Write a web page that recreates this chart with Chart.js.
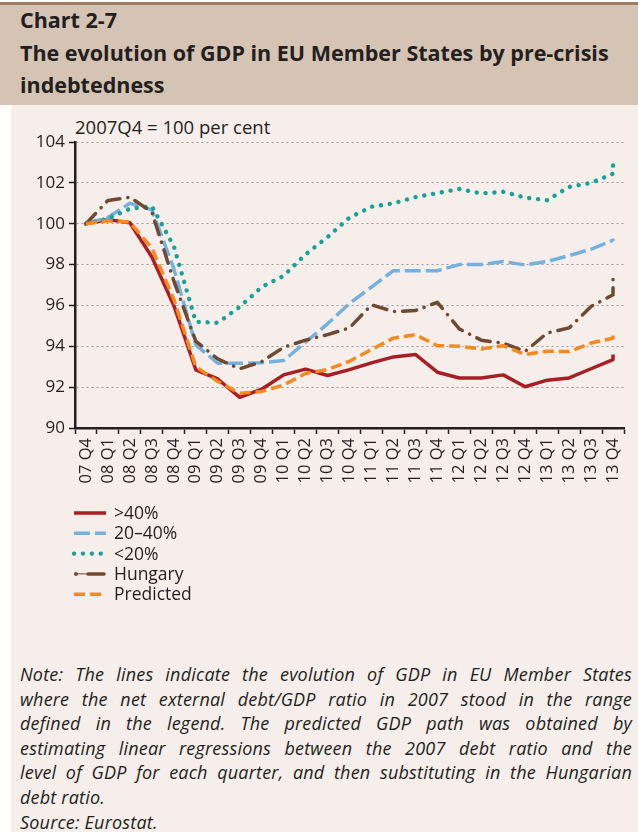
<!DOCTYPE html>
<html>
<head>
<meta charset="utf-8">
<title>GDP by pre-crisis indebtedness</title>
<script src="https://cdn.jsdelivr.net/npm/chart.js@4.4.1/dist/chart.umd.min.js"></script>
<style>
  html, body { margin: 0; padding: 0; }
  body {
    width: 638px; height: 832px; position: relative; overflow: hidden;
    background: #ffffff; color: #231f20;
    font-family: "Open Sans", Lato, sans-serif;
  }
  .topline { position: absolute; left: 0; top: 2px; width: 638px; height: 3px; background: #9c7c62; }
  .head { position: absolute; left: 0; top: 5px; width: 638px; height: 100px; background: #d5c3b3; }
  .head h1 {
    position: absolute; left: 20px; top: -1px; margin: 0;
    font-size: 21.5px; line-height: 32.5px; font-weight: 700;
  }
  .panel { position: absolute; left: 11px; top: 105px; width: 627px; height: 727px; background: #f5eeeb; }
  #wrap { position: absolute; left: 0; top: 105px; width: 638px; height: 525px; }
  .unit { position: absolute; left: 75px; top: 116px; font-size: 18.5px; line-height: 22px; }
  .note {
    position: absolute; left: 20px; top: 662px; width: 612px;
    font-size: 18px; font-style: italic; line-height: 24.6px; letter-spacing: 0.2px;
  }
  .note div { text-align: justify; text-align-last: justify; white-space: nowrap; }
  .note div.end { text-align-last: left; }
</style>
</head>
<body>
<div class="topline"></div>
<div class="head">
  <h1>Chart 2-7<br>The evolution of GDP in EU Member States by pre-crisis<br>indebtedness</h1>
</div>
<div class="panel"></div>
<div class="unit">2007Q4 = 100 per cent</div>
<div id="wrap"><canvas id="gdp" width="638" height="525"></canvas></div>
<div class="note">
  <div>Note: The lines indicate the evolution of GDP in EU Member States</div>
  <div>where the net external debt/GDP ratio in 2007 stood in the range</div>
  <div>defined in the legend. The predicted GDP path was obtained by</div>
  <div>estimating linear regressions between the 2007 debt ratio and the</div>
  <div>level of GDP for each quarter, and then substituting in the Hungarian</div>
  <div class="end">debt ratio.</div>
  <div class="end">Source: Eurostat.</div>
</div>

<script>
// quarter labels sit between the tick marks
var quarters = ['07 Q4', '08 Q1', '08 Q2', '08 Q3', '08 Q4', '09 Q1', '09 Q2', '09 Q3', '09 Q4',
                '10 Q1', '10 Q2', '10 Q3', '10 Q4', '11 Q1', '11 Q2', '11 Q3', '11 Q4',
                '12 Q1', '12 Q2', '12 Q3', '12 Q4', '13 Q1', '13 Q2', '13 Q3', '13 Q4'];

// GDP index, one value per tick mark
var over40    = [100, 100.2, 100.05, 98.37, 96.0, 92.85, 92.4, 91.5, 91.9, 92.6, 92.88, 92.57, 92.86,
                 93.19, 93.48, 93.6, 92.73, 92.45, 92.45, 92.6, 92.02, 92.34, 92.45, 92.9, 93.35, 93.6];
var from20to40 = [100, 100.3, 101.0, 100.68, 97.8, 94.07, 93.17, 93.17, 93.2, 93.3, 94.2, 95.1, 96.1,
                 96.9, 97.7, 97.7, 97.7, 98.0, 98.0, 98.15, 97.98, 98.15, 98.44, 98.75, 99.2, 99.17];
var under20   = [100, 100.25, 100.73, 100.85, 98.9, 95.2, 95.15, 95.93, 96.9, 97.45, 98.5, 99.35, 100.3,
                 100.83, 101.0, 101.3, 101.5, 101.7, 101.48, 101.56, 101.28, 101.15, 101.8, 102.0, 102.45, 103.07];
var hungary   = [100, 101.14, 101.3, 100.57, 97.2, 94.25, 93.38, 92.9, 93.25, 93.95, 94.3, 94.57, 94.9,
                 96.03, 95.7, 95.75, 96.15, 94.85, 94.3, 94.15, 93.75, 94.65, 94.9, 95.95, 96.52, 97.5];
var predicted = [100, 100.15, 100.08, 98.8, 96.3, 93.0, 92.28, 91.7, 91.79, 92.1, 92.67, 92.86, 93.27,
                 93.84, 94.4, 94.57, 94.03, 94.0, 93.87, 94.03, 93.6, 93.76, 93.74, 94.16, 94.4, 94.57];

var yMin = 90, yMax = 104, yStep = 2;

var ink = '#231f20';
var fontFamily = '"Open Sans", Lato, sans-serif';
Chart.defaults.font.family = fontFamily;
Chart.defaults.color = ink;

function points(values) {
    return values.map(function (v, i) { return { x: i, y: v }; });
}

// legend drawn as a column under the axis labels
var legendColumn = {
    id: 'legendColumn',
    afterDraw: function (chart) {
        var ctx = chart.ctx;
        var left = 73, top = chart.chartArea.bottom + 85;
        chart.data.datasets.forEach(function (ds, i) {
            var y = top + i * 20.3;
            ctx.save();
            ctx.strokeStyle = ds.borderColor;
            ctx.fillStyle = ds.borderColor;
            if (ds.label === 'Hungary') {
                // dot, hairline, long dash
                ctx.beginPath();
                ctx.arc(left + 3, y, 2, 0, Math.PI * 2);
                ctx.fill();
                ctx.lineWidth = 1;
                ctx.beginPath();
                ctx.moveTo(left + 3, y);
                ctx.lineTo(left + 14, y);
                ctx.stroke();
                ctx.lineWidth = ds.borderWidth;
                ctx.lineCap = 'round';
                ctx.beginPath();
                ctx.moveTo(left + 15, y);
                ctx.lineTo(left + 31, y);
                ctx.stroke();
            } else {
                ctx.lineWidth = ds.borderWidth;
                ctx.lineCap = ds.borderCapStyle || 'butt';
                ctx.setLineDash(ds.borderDash || []);
                ctx.beginPath();
                ctx.moveTo(left + 1, y);
                ctx.lineTo(left + 33, y);
                ctx.stroke();
            }
            ctx.restore();

            ctx.save();
            ctx.fillStyle = ink;
            ctx.font = '17.5px ' + fontFamily;
            ctx.textBaseline = 'middle';
            ctx.fillText(ds.label, left + 41, y + 1);
            ctx.restore();
        });
    }
};

var ctx = document.getElementById('gdp').getContext('2d');
var gdpChart = new Chart(ctx, {
    type: 'line',
    data: {
        labels: quarters,
        datasets: [{
            label: '>40%',
            data: points(over40),
            borderColor: '#a81e24',
            borderWidth: 3.5,
            order: 5
        }, {
            label: '20–40%',
            data: points(from20to40),
            borderColor: '#74b1de',
            borderWidth: 3.5,
            borderDash: [16, 5],
            order: 4
        }, {
            label: '<20%',
            data: points(under20),
            borderColor: '#17a394',
            borderWidth: 4.4,
            borderDash: [0.1, 8.8],
            borderCapStyle: 'round',
            order: 3
        }, {
            label: 'Hungary',
            data: points(hungary),
            borderColor: '#6f4a33',
            borderWidth: 3.5,
            borderDash: [14, 8, 0.1, 8],
            borderCapStyle: 'round',
            order: 2
        }, {
            label: 'Predicted',
            data: points(predicted),
            borderColor: '#f68a1f',
            borderWidth: 3.5,
            borderDash: [11, 5],
            order: 1
        }]
    },
    options: {
        responsive: false,
        animation: false,
        events: [],
        datasets: {
            line: {
                xAxisID: 'xPts',
                pointRadius: 0,
                tension: 0,
                fill: false,
                borderJoinStyle: 'round'
            }
        },
        layout: {
            padding: { top: 37, right: 14, bottom: 132, left: 0 }
        },
        plugins: {
            legend: { display: false },
            tooltip: { enabled: false },
            title: { display: false }
        },
        scales: {
            x: {
                type: 'category',
                position: 'bottom',
                offset: true,
                grid: {
                    offset: true,
                    drawOnChartArea: false,
                    drawTicks: true,
                    tickLength: 6,
                    tickWidth: 1.5,
                    tickColor: ink
                },
                border: { display: true, color: ink, width: 2.5 },
                ticks: {
                    autoSkip: false,
                    minRotation: 90,
                    maxRotation: 90,
                    padding: 4,
                    color: ink,
                    font: { size: 16.5 }
                },
                afterFit: function (scale) {
                    scale.height = 70;
                    scale.paddingLeft = 0;
                    scale.paddingRight = 0;
                }
            },
            xPts: {
                type: 'linear',
                display: false,
                min: 0,
                max: quarters.length
            },
            y: {
                min: yMin,
                max: yMax,
                ticks: {
                    stepSize: yStep,
                    padding: 4,
                    color: ink,
                    font: { size: 17 }
                },
                grid: {
                    color: '#9e9a97',
                    lineWidth: 1,
                    tickColor: ink,
                    tickLength: 6,
                    tickWidth: 1.5,
                    tickBorderDash: []
                },
                border: { display: true, color: ink, width: 2.5, dash: [2, 3] },
                afterFit: function (scale) { scale.width = 75; }
            }
        }
    },
    plugins: [legendColumn]
});
</script>
</body>
</html>
